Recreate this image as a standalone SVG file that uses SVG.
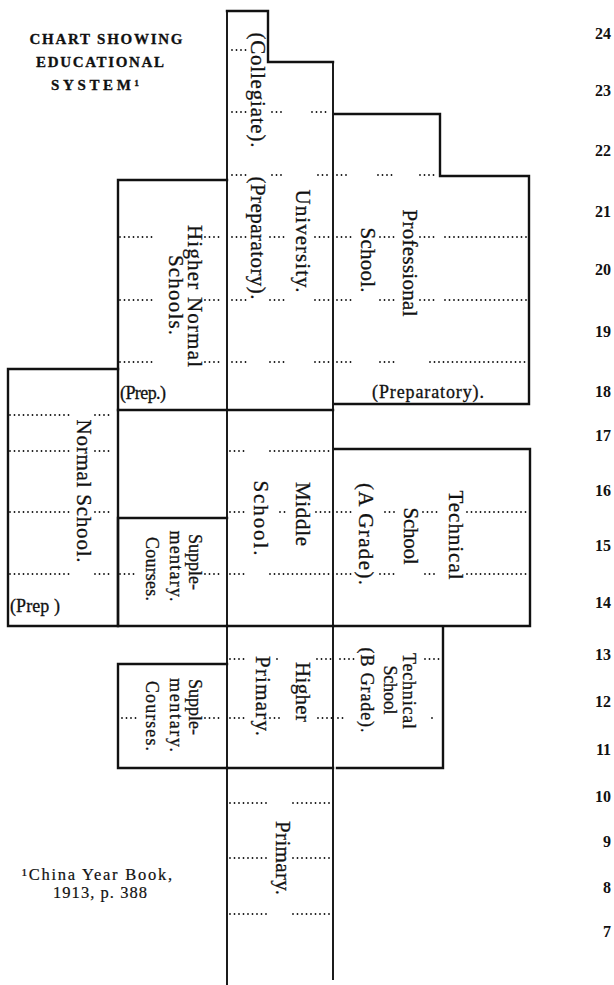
<svg xmlns="http://www.w3.org/2000/svg" width="614" height="985" viewBox="0 0 614 985">
<style>
.ln{stroke:#111;stroke-width:2.4;fill:none;stroke-linecap:square}
.col{stroke:#111;stroke-width:1.9;fill:none}
.dt{stroke:#111;stroke-width:1.8;stroke-linecap:round;stroke-dasharray:0 4.5;fill:none}
.t{font-family:"Liberation Serif","DejaVu Serif",serif;fill:#111;stroke:#111;stroke-width:0.3}
.v{font-size:21px;text-anchor:middle}
.s{font-size:18px;text-anchor:middle}
.h{font-size:18px}
.yr{font-family:"Liberation Serif","DejaVu Serif",serif;font-weight:bold;font-size:16px;text-anchor:end;fill:#111}
</style>
<rect width="614" height="985" fill="#fff"/>

<g id="title" class="t" font-size="15" font-weight="bold" text-anchor="middle">
<text x="106" y="44" textLength="153">CHART SHOWING</text>
<text x="100" y="67" textLength="128">EDUCATIONAL</text>
<text x="95" y="90" textLength="88">SYSTEM¹</text>
</g>

<g id="main-column">
<path class="col" d="M227 11V985M333 62V980"/>
</g>

<g id="collegiate">
<path class="ln" d="M227 11H268V62H333"/>
<text class="t v" transform="translate(251,90) rotate(90)" textLength="115">(Collegiate).</text>
</g>

<g id="university">
<text class="t v" transform="translate(251,238) rotate(90)" textLength="123">(Preparatory).</text>
<text class="t v" transform="translate(296,241) rotate(90)" textLength="103">University.</text>
</g>

<g id="professional">
<path class="ln" d="M335 114H440V176H529V404H335"/>
<text class="t v" transform="translate(403,263) rotate(90)" textLength="107">Professional</text>
<text class="t v" transform="translate(361,260) rotate(90)" textLength="65">School.</text>
<text class="t h" x="428" y="398" text-anchor="middle" textLength="112">(Preparatory).</text>
</g>

<g id="higher-normal">
<path class="ln" d="M227 180H118V410H333"/>
<text class="t v" transform="translate(188,296) rotate(90)" textLength="142">Higher Normal</text>
<text class="t v" transform="translate(169,295) rotate(90)" textLength="80">Schools.</text>
<text class="t h" x="120" y="399" textLength="46">(Prep.)</text>
</g>

<g id="normal-school">
<path class="ln" d="M118 369H8V626H118V410"/>
<text class="t v" transform="translate(77,491) rotate(90)" textLength="143">Normal School.</text>
<text class="t h" x="10" y="612" textLength="50">(Prep )</text>
</g>

<g id="supplementary-upper">
<path class="ln" d="M120 518H227M118 518V626H227"/>
<text class="t s" transform="translate(189,562) rotate(90)" textLength="56">Supple-</text>
<text class="t s" transform="translate(170,566) rotate(90)" textLength="71">mentary.</text>
<text class="t s" transform="translate(146,569) rotate(90)" textLength="64">Courses.</text>
</g>

<g id="middle-school">
<path class="ln" d="M227 626H333"/>
<text class="t v" transform="translate(296,514) rotate(90)" textLength="64">Middle</text>
<text class="t v" transform="translate(254,518) rotate(90)" textLength="75">School.</text>
</g>

<g id="technical-a">
<path class="ln" d="M335 449H530V626H335"/>
<text class="t v" transform="translate(449,535) rotate(90)" textLength="89">Technical</text>
<text class="t v" transform="translate(404,536) rotate(90)" textLength="57">School</text>
<text class="t v" transform="translate(359,534) rotate(90)" textLength="102">(A Grade).</text>
</g>

<g id="technical-b">
<path class="ln" d="M443 628V768H337"/>
<text class="t s" transform="translate(403,691) rotate(90)" textLength="76">Technical</text>
<text class="t s" transform="translate(384,690) rotate(90)" textLength="49">School</text>
<text class="t s" transform="translate(361,690) rotate(90)" textLength="85">(B Grade).</text>
</g>

<g id="supplementary-lower">
<path class="ln" d="M227 664H118V768H227"/>
<text class="t s" transform="translate(189,707) rotate(90)" textLength="56">Supple-</text>
<text class="t s" transform="translate(170,715) rotate(90)" textLength="74">mentary.</text>
<text class="t s" transform="translate(146,716) rotate(90)" textLength="70">Courses.</text>
</g>

<g id="higher-primary">
<path class="ln" d="M227 768H333"/>
<text class="t v" transform="translate(296,692) rotate(90)" textLength="60">Higher</text>
<text class="t v" transform="translate(256,696) rotate(90)" textLength="80">Primary.</text>
</g>

<g id="primary">
<text class="t v" transform="translate(276,858) rotate(90)" textLength="74">Primary.</text>
</g>

<g id="year-rows">
<path class="dt" d="M232 50H248
M232 112H248M272 112H285M312 112H329
M232 175H248M272 175H285M318 175H331M337 175H348M378 175H396M420 175H438
M120 237H153M205 237H223M232 237H247M270 237H285M315 237H331M337 237H353M380 237H396M420 237H437M445 237H527
M120 300H153M205 300H223M232 300H247M270 300H285M315 300H331M337 300H353M380 300H396M420 300H437M445 300H527
M120 362H153M205 362H223M232 362H247M270 362H285M315 362H331M337 362H353M380 362H396M430 362H527
M10 415H73M95 415H113
M10 451H73M95 451H113M230 451H247M270 451H332
M10 512H73M95 512H113M230 512H247M280 512H286M316 512H332M337 512H354M385 512H396M423 512H438M467 512H527
M10 574H73M95 574H113M120 574H134M205 574H223M230 574H247M270 574H332M337 574H354M380 574H396M425 574H438M467 574H527
M230 659H248M277 659H278M317 659H332M340 659H354M425 659H439
M122 718H136M205 718H223M230 718H247M270 718H281M318 718H332M338 718H343M432 718H433
M230 803H268M293 803H332
M230 858H268M293 858H332
M230 914H268M293 914H332"/>
</g>

<g id="footnote" class="t" font-size="16.5" text-anchor="middle" style="stroke-width:0.2">
<text x="97" y="880" textLength="150">¹China Year Book,</text>
<text x="100" y="898" textLength="94">1913, p. 388</text>
</g>

<g id="years">
<text class="yr" x="611" y="39">24</text>
<text class="yr" x="611" y="96">23</text>
<text class="yr" x="611" y="156">22</text>
<text class="yr" x="611" y="217">21</text>
<text class="yr" x="611" y="275">20</text>
<text class="yr" x="611" y="337">19</text>
<text class="yr" x="611" y="397">18</text>
<text class="yr" x="611" y="441">17</text>
<text class="yr" x="611" y="496">16</text>
<text class="yr" x="611" y="551">15</text>
<text class="yr" x="611" y="608">14</text>
<text class="yr" x="611" y="660">13</text>
<text class="yr" x="611" y="707">12</text>
<text class="yr" x="611" y="755">11</text>
<text class="yr" x="611" y="802">10</text>
<text class="yr" x="611" y="847">9</text>
<text class="yr" x="611" y="893">8</text>
<text class="yr" x="611" y="937">7</text>
</g>
</svg>
